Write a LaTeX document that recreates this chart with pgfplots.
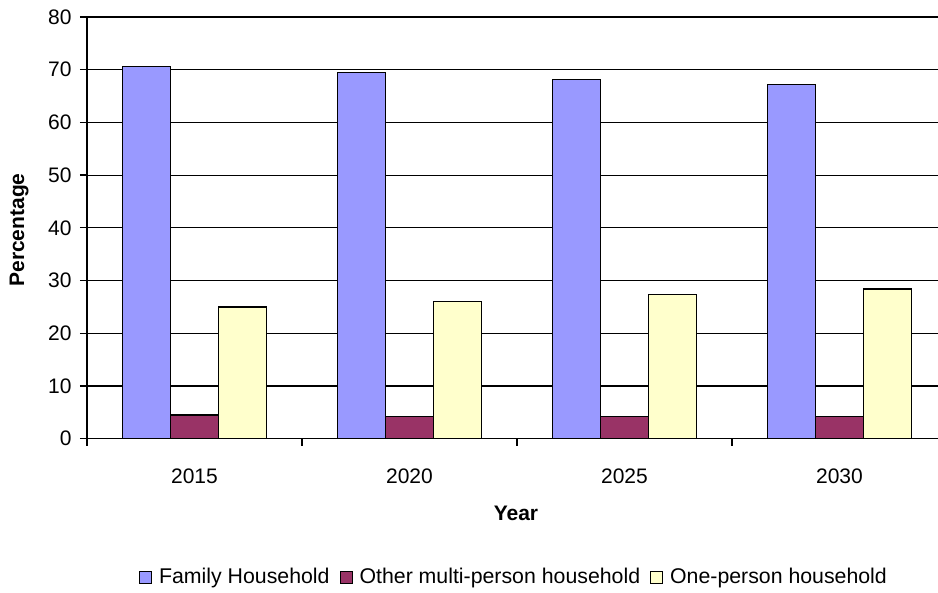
\documentclass[border=0pt]{standalone}
\usepackage{pgfplots}
\pgfplotsset{compat=1.18}
\usepackage{fontspec}
\setmainfont{Liberation Sans}
\definecolor{famc}{HTML}{9999FF}
\definecolor{othc}{HTML}{993366}
\definecolor{onec}{HTML}{FFFFCC}
\pgfplotsset{sqlegend/.style={legend image code/.code={\draw[##1,draw=black,line width=1pt] (0pt,-6pt) rectangle (12pt,6pt);}}}
\begin{document}
\begin{tikzpicture}[x=1pt,y=1pt]
\useasboundingbox (0,0) rectangle (938,593);
\begin{axis}[
  at={(87pt,154.3pt)}, anchor=south west,
  scale only axis, width=860pt, height=421.7pt,
  xmin=-0.5, xmax=3.5, ymin=0, ymax=80,
  ybar=0pt, bar width=48pt,
  axis x line*=bottom, axis y line*=left,
  axis line style={line width=1.5pt, black},
  ytick={0,10,...,80},
  xtick={0,1,2,3},
  xticklabels={2015,2020,2025,2030},
  minor xtick={-0.5,0.5,1.5,2.5,3.5},
  tick align=outside,
  major tick length=7pt, minor tick length=7pt,
  major x tick style={draw=none},
  tick style={line width=1.3pt, black},
  ymajorgrids, grid style={line width=1.2pt, black},
  axis on top=false,
  /pgf/number format/assume math mode=true,
  ticklabel style={font=\fontsize{21}{25}\selectfont},
  xticklabel style={anchor=center, yshift=-31pt},
  yticklabel style={anchor=east, xshift=-5pt},
  xlabel={\textbf{Year}},
  ylabel={\textbf{Percentage}},
  label style={font=\fontsize{21}{25}\selectfont},
  xlabel style={at={(axis description cs:0.4988,-0.176)}, anchor=center},
  ylabel style={at={(axis description cs:-0.079,0.495)}, anchor=center, rotate=0},
  legend columns=-1,
  legend style={draw=none, at={(0.4965,-0.328)}, anchor=center,
    font=\fontsize{21.3}{25}\selectfont,
    /tikz/every odd column/.append style={column sep=5pt},
    /tikz/every even column/.append style={column sep=8pt}},
]
\addplot[fill=famc, draw=black, line width=1.2pt, sqlegend] coordinates {(0,70.6) (1,69.4) (2,68.2) (3,67.2)};
\addplot[fill=othc, draw=black, line width=1.2pt, sqlegend] coordinates {(0,4.5) (1,4.2) (2,4.2) (3,4.2)};
\addplot[fill=onec, draw=black, line width=1.2pt, sqlegend] coordinates {(0,25.0) (1,26.1) (2,27.3) (3,28.4)};
\legend{Family Household, Other multi-person household, One-person household}
\end{axis}
\end{tikzpicture}
\end{document}
